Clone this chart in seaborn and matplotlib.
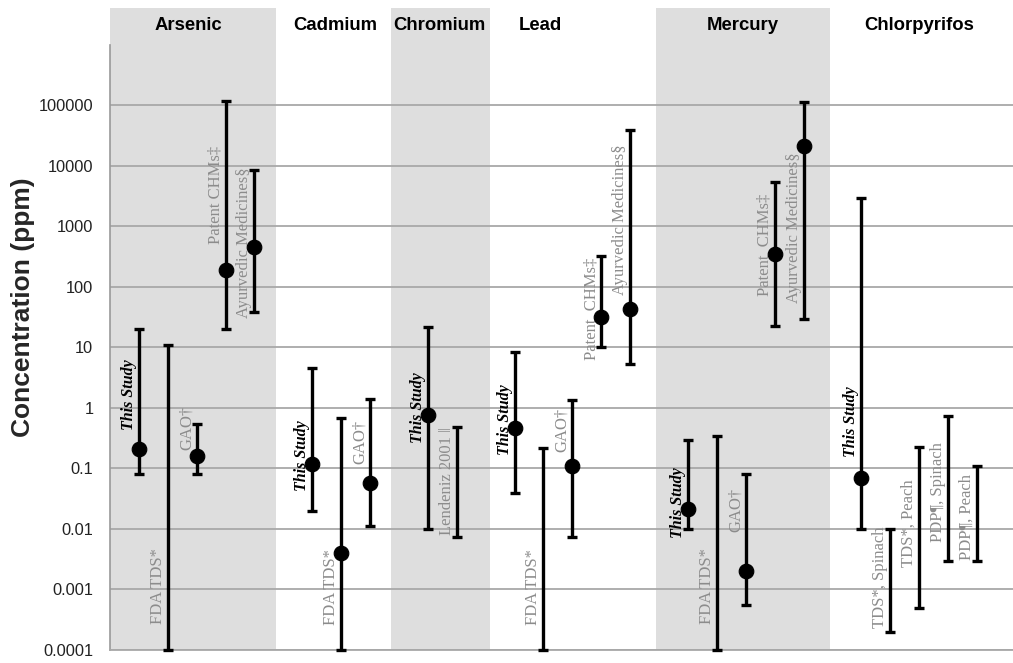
import numpy as np
import pandas as pd
import seaborn as sns
import matplotlib.pyplot as plt
import matplotlib.transforms as mtransforms
from matplotlib.ticker import FixedLocator, FixedFormatter, NullFormatter

# data
substances = ['Arsenic', 'Cadmium', 'Chromium', 'Lead', 'Mercury', 'Chlorpyrifos']
substance = (['Arsenic'] * 5 + ['Cadmium'] * 3 + ['Chromium'] * 2 +
             ['Lead'] * 5 + ['Mercury'] * 5 + ['Chlorpyrifos'] * 5)
study = ['This Study', 'FDA TDS*', 'GAO†', 'Patent CHMs‡', 'Ayurvedic Medicines§',
         'This Study', 'FDA TDS*', 'GAO†',
         'This Study', 'Lendeniz 2001 ‖',
         'This Study', 'FDA TDS*', 'GAO†', 'Patent  CHMs‡', 'Ayurvedic Medicines§',
         'This Study', 'FDA TDS*', 'GAO†', 'Patent  CHMs‡', 'Ayurvedic Medicines§',
         'This Study', 'TDS*, Spinach', 'TDS*, Peach', 'PDP¶, Spinach', 'PDP¶, Peach']
point = [0.21, np.nan, 0.16, 190, 450,
         0.12, 0.004, 0.057,
         0.77, np.nan,
         0.47, np.nan, 0.11, 32, 43,
         0.021, np.nan, 0.002, 350, 21000,
         0.07, np.nan, np.nan, np.nan, np.nan]
low = [0.08, 0.0001, 0.08, 20, 38,
       0.02, 0.0001, 0.011,
       0.01, 0.0074,
       0.04, 0.0001, 0.0074, 10, 5.3,
       0.01, 0.0001, 0.00055, 23, 30,
       0.01, 0.0002, 0.0005, 0.003, 0.003]
high = [20, 11, 0.54, 120000, 8500,
        4.5, 0.68, 1.4,
        22, 0.48,
        8.4, 0.22, 1.35, 330, 39000,
        0.3, 0.34, 0.08, 5400, 114000,
        3000, 0.01, 0.23, 0.75, 0.11]
# where each rotated study label sits (value on the y axis)
label_at = [1.64, 0.00115, 0.47, 3300, 530,
            0.16, 0.0011, 0.27,
            1.0, 0.062,
            0.63, 0.0011, 0.43, 43, 1280,
            0.027, 0.00115, 0.0206, 494, 944,
            0.59, 0.0016, 0.0126, 0.041, 0.0158]
tick_vals = [0.0001, 0.001, 0.01, 0.1, 1, 10, 100, 1000, 10000, 100000]
tick_labels = ['0.0001', '0.001', '0.01', '0.1', '1', '10', '100', '1000', '10000', '100000']

df = pd.DataFrame({'substance': substance, 'study': study, 'point': point,
                   'low': low, 'high': high, 'label_at': label_at})
df['group'] = pd.Categorical(df['substance'], categories=substances).codes
# one empty slot between the groups
df['slot'] = df.index + 1 + df['group']

sns.set_style('white')
plt.rcParams['font.family'] = ['Liberation Sans', 'DejaVu Sans']

fig = plt.figure(figsize=(10.13, 6.63), dpi=100)
ax = fig.add_axes([110 / 1013, 13 / 663, 1 - 110 / 1013, 642 / 663])
ax.set_yscale('log')
ax.set_xlim(0, 31.25)
ax.set_ylim(1e-4, 10 ** 6.61)

# shaded bands behind every other substance
for x0, x1 in [(-0.07, 5.74), (9.71, 13.15), (18.9, 24.9)]:
    ax.axvspan(x0, x1, color='#dedede', zorder=0, lw=0)

# error bars (range) for each study
ymid = df['point'].fillna(df['low'])
ax.errorbar(df['slot'], ymid, yerr=[ymid - df['low'], df['high'] - ymid],
            fmt='none', ecolor='black', elinewidth=2.4, capsize=3.6,
            capthick=2.4, zorder=3, clip_on=False)
sns.scatterplot(data=df.dropna(subset=['point']), x='slot', y='point',
                color='black', s=110, edgecolor='black', zorder=4,
                legend=False, ax=ax)

# rotated study labels left of each bar
for _, r in df.iterrows():
    if r['study'] == 'This Study':
        kw = dict(color='black', fontweight='bold', fontstyle='italic', fontsize=11.5)
    else:
        kw = dict(color='#8c8c8c', fontsize=12)
    ax.annotate(r['study'], xy=(r['slot'], r['label_at']), xytext=(-10, 0),
                textcoords='offset pixels', rotation=90, ha='center', va='center',
                family=['Liberation Serif', 'DejaVu Serif'], **kw)

# substance headers
trans = mtransforms.blended_transform_factory(ax.transData, ax.transAxes)
for name, hx in zip(substances, [2.7, 7.8, 11.4, 14.9, 21.9, 28.0]):
    ax.text(hx, 0.9735, name, transform=trans, ha='center', va='center',
            fontsize=13.3, fontweight='bold', color='black')

# axes styling
ax.yaxis.set_major_locator(FixedLocator(tick_vals))
ax.yaxis.set_major_formatter(FixedFormatter(tick_labels))
minor = [k * 10.0 ** e for e in range(-4, 6) for k in range(2, 10)]
ax.yaxis.set_minor_locator(FixedLocator(minor))
ax.yaxis.set_minor_formatter(NullFormatter())
ax.tick_params(axis='y', which='major', direction='out', length=5, width=1.2,
               color='#999999', labelsize=11.8, labelcolor='#222222', pad=7)
ax.tick_params(axis='y', which='minor', direction='in', length=4, width=0.8,
               color='#999999')
ax.tick_params(axis='x', bottom=False, labelbottom=False)
ax.grid(True, axis='y', which='major', color='#a8a8a8', lw=1.3)
ax.set_axisbelow(True)
for s in ['top', 'right']:
    ax.spines[s].set_visible(False)
ax.spines['left'].set_color('#999999')
ax.spines['left'].set_linewidth(1.2)
ax.spines['left'].set_bounds(1e-4, 1e6)
ax.spines['bottom'].set_color('#a8a8a8')
ax.spines['bottom'].set_linewidth(1.3)
ax.set_xlabel('')
ax.set_ylabel('')

fig.text(23 / 1013, 1 - 307 / 663, 'Concentration (ppm)', rotation=90,
         ha='center', va='center', fontsize=19, fontweight='bold')

fig.savefig('out.png', dpi=100)
